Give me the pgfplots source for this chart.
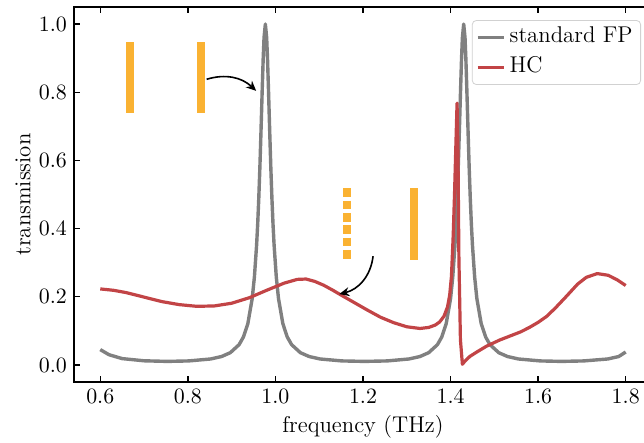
\documentclass[border=0pt]{standalone}
\usepackage{pgfplots}
\pgfplotsset{compat=1.18}
\usetikzlibrary{arrows.meta}

\definecolor{fpgray}{RGB}{128,128,128}
\definecolor{hcred}{RGB}{194,68,70}
\definecolor{mirror}{RGB}{250,178,50}

\begin{document}
\begin{tikzpicture}
% the axis box sits with its lower left corner at the origin;
% the figure is cut off just short of the right spine
\useasboundingbox (-37pt,-30.5pt) rectangle (285pt,191pt);
\clip (-37pt,-30.5pt) rectangle (285pt,191pt);
\begin{axis}[
  at={(0pt,0pt)}, anchor=south west,
  scale only axis,
  width=289pt, height=187.5pt,
  xmin=0.54, xmax=1.86, ymin=-0.05, ymax=1.05,
  xtick={0.6,0.8,1.0,1.2,1.4,1.6,1.8},
  ytick={0,0.2,0.4,0.6,0.8,1.0},
  xticklabel style={/pgf/number format/.cd, fixed, fixed zerofill, precision=1},
  yticklabel style={/pgf/number format/.cd, fixed, fixed zerofill, precision=1},
  tick align=inside,
  major tick length=3pt,
  tick style={black, line width=0.7pt},
  axis line style={line width=0.8pt},
  font=\fontsize{11.4}{13.6}\selectfont,
  xlabel={frequency (THz)},
  ylabel={transmission},
  xlabel style={at={(axis description cs:0.5,-0.119)}, anchor=center},
  ylabel style={at={(axis description cs:-0.0882,0.5)}, anchor=center},
  legend cell align=left,
  legend style={at={(axis description cs:0.981,0.965)}, anchor=north east,
    draw=black!18, rounded corners=2pt, fill=white,
    font=\fontsize{11.4}{13.6}\selectfont,
    inner xsep=2pt, inner ysep=2pt, row sep=2pt,
    nodes={inner xsep=2pt, inner ysep=1.5pt, text height=0.75em, text depth=0.25em}},
  legend image code/.code={\path (0pt,0pt) -- (13pt,0pt); \draw[#1] (0pt,0pt) -- (9pt,0pt);},
]

% standard Fabry-Perot cavity
\addplot[fpgray, line width=1.7pt, line join=round] coordinates {
(0.600,0.045) (0.620,0.030) (0.650,0.0186) (0.700,0.0122) (0.753,0.0104)
(0.802,0.0118) (0.852,0.0175) (0.877,0.0247) (0.897,0.036) (0.917,0.0595)
(0.927,0.0822) (0.937,0.121) (0.947,0.195) (0.952,0.258) (0.957,0.351)
(0.9595,0.413) (0.962,0.489) (0.9645,0.579) (0.967,0.683) (0.9695,0.793)
(0.972,0.896) (0.974,0.960) (0.977,1.000) (0.980,0.960) (0.982,0.896)
(0.9845,0.793) (0.987,0.683) (0.9895,0.579) (0.992,0.489) (0.9945,0.413)
(0.997,0.351) (1.002,0.258) (1.007,0.195) (1.017,0.121) (1.027,0.0822)
(1.037,0.0595) (1.057,0.036) (1.077,0.0247) (1.102,0.0175) (1.152,0.0118)
(1.2035,0.0104) (1.255,0.0118) (1.305,0.0175) (1.330,0.0247) (1.350,0.036)
(1.370,0.0595) (1.380,0.0822) (1.390,0.121) (1.400,0.195) (1.405,0.258)
(1.410,0.351) (1.4125,0.413) (1.415,0.489) (1.4175,0.579) (1.420,0.683)
(1.4225,0.793) (1.425,0.896) (1.427,0.960) (1.430,1.000) (1.433,0.960)
(1.435,0.896) (1.4375,0.793) (1.440,0.683) (1.4425,0.579) (1.445,0.489)
(1.4475,0.413) (1.450,0.351) (1.455,0.258) (1.460,0.195) (1.470,0.121)
(1.480,0.0822) (1.490,0.0595) (1.510,0.036) (1.530,0.0247) (1.555,0.0175)
(1.605,0.0118) (1.6535,0.0104) (1.704,0.0118) (1.759,0.0175) (1.784,0.0247)
(1.800,0.038)
};
\addlegendentry{standard FP}

% hybrid cavity
\addplot[hcred, line width=1.6pt, line join=round] coordinates {
(0.60,0.223) (0.63,0.219) (0.66,0.212) (0.70,0.199) (0.74,0.186)
(0.78,0.177) (0.82,0.172) (0.86,0.173) (0.90,0.181) (0.94,0.197)
(0.98,0.219) (1.02,0.240) (1.05,0.251) (1.07,0.252) (1.09,0.245)
(1.11,0.234) (1.13,0.220) (1.15,0.205) (1.18,0.183) (1.21,0.161)
(1.24,0.140) (1.27,0.124) (1.30,0.112) (1.33,0.107) (1.35,0.110)
(1.365,0.117) (1.375,0.126) (1.385,0.143) (1.393,0.170) (1.398,0.205)
(1.402,0.260) (1.406,0.380) (1.409,0.500) (1.412,0.640) (1.4148,0.768)
(1.417,0.613) (1.419,0.318) (1.4225,0.074) (1.427,0.002) (1.432,0.010)
(1.444,0.025) (1.460,0.038) (1.482,0.055) (1.512,0.073) (1.540,0.087)
(1.560,0.097) (1.580,0.110) (1.600,0.125) (1.620,0.143) (1.640,0.168)
(1.665,0.202) (1.690,0.237) (1.710,0.257) (1.735,0.268) (1.760,0.263)
(1.780,0.250) (1.800,0.233)
};
\addlegendentry{HC}

% mirrors of the standard cavity
\addplot[mirror, line width=4pt, forget plot] coordinates {(0.6677,0.740) (0.6677,0.946)};
\addplot[mirror, line width=4pt, forget plot] coordinates {(0.8307,0.740) (0.8307,0.946)};
% mirrors of the hybrid cavity (one of them a grating)
\addplot[mirror, line width=4pt, dash pattern=on 4.35pt off 1.8pt, forget plot]
  coordinates {(1.164,0.518) (1.164,0.309)};
\addplot[mirror, line width=4pt, forget plot] coordinates {(1.316,0.309) (1.316,0.518)};

\draw[-{Stealth[length=5pt,width=4.5pt]}, line width=0.8pt]
  (axis cs:0.843,0.838) to[bend left=30] (axis cs:0.956,0.804);
\draw[-{Stealth[length=5pt,width=4.5pt]}, line width=0.8pt]
  (axis cs:1.223,0.319) to[bend left=35] (axis cs:1.146,0.208);
\end{axis}
\end{tikzpicture}
\end{document}
